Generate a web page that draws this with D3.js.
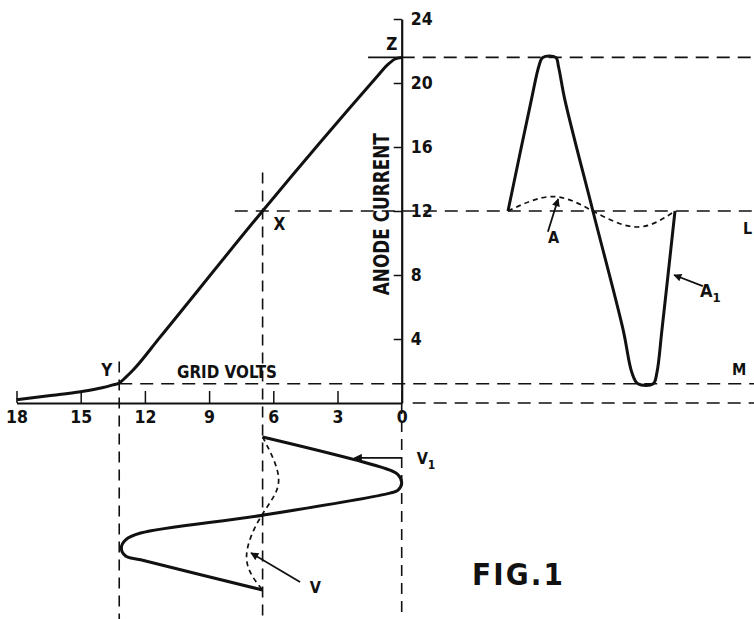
<!DOCTYPE html>
<html>
<head>
<meta charset="utf-8">
<script src="https://cdn.jsdelivr.net/npm/d3@7"></script>
<style>
  body { margin: 0; background: #fff; }
  text { font-family: "DejaVu Sans Condensed", "DejaVu Sans", sans-serif; font-weight: bold; fill: #111; }
</style>
</head>
<body>
<script>
// axis ticks
const gridVoltTicks = [18, 15, 12, 9, 6, 3, 0];
const anodeTicks = [4, 8, 12, 16, 20, 24];

// valve characteristic: grid volts (negative bias) vs anode current
const charVolts = [18, 16.5, 15, 14, 13.5, 13.2, 12.9, 12.55, 11.3, 6.5, 1.15, 0.69, 0.31, 0];
const charCurrent = [0.2, 0.45, 0.7, 0.95, 1.13, 1.25, 1.6, 2.06, 4.1, 12, 20.4, 21.1, 21.5, 21.6];

// anode current waveform A1 (phase in degrees)
const anodePhase = [0, 50, 67, 75, 103, 109, 123, 183, 248, 267, 280, 313, 321, 332, 360];
const anodeCurrent = [12, 18.9, 21.1, 21.6, 21.6, 21.0, 18.9, 12, 4.6, 1.9, 1.2, 1.2, 1.9, 4.6, 12];

// small anode current waveform A
const smallAPhase = [0, 95, 183, 278, 360];
const smallACurrent = [12, 12.9, 12, 11.0, 12];

// grid voltage waveform V1
const gridPhase = [0, 78, 89, 108, 125, 132, 184, 226, 242, 261, 280, 289, 360];
const gridVolts = [6.5, 0.55, 0.17, 0, 0.17, 0.55, 6.5, 12.2, 12.9, 13.1, 12.9, 12.2, 6.5];

// small grid voltage waveform V
const smallVPhase = [0, 101, 181, 282, 360];
const smallVVolts = [6.5, 5.75, 6.5, 7.25, 6.5];

// reference levels
const levelZ = 21.6, levelL = 12, levelM = 1.2;
const voltX = 6.5, voltY = 13.2;

const width = 754, height = 619;

const svg = d3.select("body").append("svg")
    .attr("width", width)
    .attr("height", height);

const xV = d3.scaleLinear().domain([18, 0]).range([16.5, 401.7]);
const yI = d3.scaleLinear().domain([0, 24]).range([403, 19]);
const xT = d3.scaleLinear().domain([0, 360]).range([508, 675]);
const yT = d3.scaleLinear().domain([0, 360]).range([437, 590]);

const ink = "#111";

svg.append("defs").append("marker")
    .attr("id", "head")
    .attr("viewBox", "0 0 10 10")
    .attr("refX", 9).attr("refY", 5)
    .attr("markerWidth", 11).attr("markerHeight", 8)
    .attr("markerUnits", "userSpaceOnUse")
    .attr("orient", "auto")
    .append("path")
    .attr("d", "M0,0 L10,5 L0,10 Z")
    .attr("fill", ink);

// dashed guide lines
const hGuides = [
    { y: yI(levelZ), x1: xV(0), x2: width },
    { y: yI(levelL), x1: xV(7.8), x2: width },
    { y: yI(levelM), x1: xV(voltY), x2: width },
    { y: yI(0), x1: xV(0) + 11, x2: width }
];
const vGuides = [
    { x: xV(voltX), y1: yI(14.4), y2: height },
    { x: xV(voltY), y1: yI(2.6), y2: height },
    { x: xV(0), y1: yI(0), y2: height }
];

svg.selectAll(".hguide").data(hGuides).join("line")
    .attr("x1", d => d.x1).attr("x2", d => d.x2)
    .attr("y1", d => d.y).attr("y2", d => d.y)
    .attr("stroke", ink).attr("stroke-width", 1.6)
    .attr("stroke-dasharray", "13,8");

svg.selectAll(".vguide").data(vGuides).join("line")
    .attr("x1", d => d.x).attr("x2", d => d.x)
    .attr("y1", d => d.y1).attr("y2", d => d.y2)
    .attr("stroke", ink).attr("stroke-width", 1.6)
    .attr("stroke-dasharray", "11,7");

// short solid bit at Z
svg.append("line")
    .attr("x1", xV(1.57)).attr("x2", xV(0))
    .attr("y1", yI(levelZ)).attr("y2", yI(levelZ))
    .attr("stroke", ink).attr("stroke-width", 1.6);

// axes
const yAxis = d3.axisRight(yI)
    .tickValues(anodeTicks)
    .tickSizeInner(-8)
    .tickSizeOuter(0)
    .tickPadding(9);

const gy = svg.append("g")
    .attr("transform", `translate(${xV(0)},0)`)
    .call(yAxis);

const xAxis = d3.axisBottom(xV)
    .tickValues(gridVoltTicks)
    .tickSizeInner(-12)
    .tickSizeOuter(0)
    .tickPadding(8);

const gx = svg.append("g")
    .attr("transform", `translate(0,${yI(0)})`)
    .call(xAxis);

[gx, gy].forEach(g => {
    g.select(".domain").attr("stroke", ink).attr("stroke-width", 2.2);
    g.selectAll(".tick line").attr("stroke", ink).attr("stroke-width", 1.5);
    g.selectAll(".tick text")
        .attr("fill", ink)
        .style("font-family", "'DejaVu Sans Condensed', 'DejaVu Sans', sans-serif")
        .style("font-weight", "bold")
        .style("font-size", "17.5px");
});

// characteristic curve
const charLine = d3.line()
    .x((d, i) => xV(charVolts[i]))
    .y((d, i) => yI(charCurrent[i]))
    .curve(d3.curveMonotoneX);

svg.append("path")
    .attr("d", charLine(charVolts))
    .attr("fill", "none").attr("stroke", ink).attr("stroke-width", 3);

// anode current waveforms
const anodeLine = d3.line()
    .x((d, i) => xT(anodePhase[i]))
    .y((d, i) => yI(anodeCurrent[i]))
    .curve(d3.curveCatmullRom.alpha(0.5));

svg.append("path")
    .attr("d", anodeLine(anodePhase))
    .attr("fill", "none").attr("stroke", ink).attr("stroke-width", 3)
    .attr("stroke-linejoin", "round");

const smallALine = d3.line()
    .x((d, i) => xT(smallAPhase[i]))
    .y((d, i) => yI(smallACurrent[i]))
    .curve(d3.curveNatural);

svg.append("path")
    .attr("d", smallALine(smallAPhase))
    .attr("fill", "none").attr("stroke", ink).attr("stroke-width", 1.7)
    .attr("stroke-dasharray", "5,4");

// grid voltage waveforms
const gridLine = d3.line()
    .x((d, i) => xV(gridVolts[i]))
    .y((d, i) => yT(gridPhase[i]))
    .curve(d3.curveCatmullRom.alpha(0.5));

svg.append("path")
    .attr("d", gridLine(gridPhase))
    .attr("fill", "none").attr("stroke", ink).attr("stroke-width", 3)
    .attr("stroke-linejoin", "round");

const smallVLine = d3.line()
    .x((d, i) => xV(smallVVolts[i]))
    .y((d, i) => yT(smallVPhase[i]))
    .curve(d3.curveNatural);

svg.append("path")
    .attr("d", smallVLine(smallVPhase))
    .attr("fill", "none").attr("stroke", ink).attr("stroke-width", 1.7)
    .attr("stroke-dasharray", "5,4");

// arrows
const arrows = [
    { x1: xT(86), y1: yI(10.7), x2: xT(108), y2: yI(12.75) },   // A
    { x1: xT(420), y1: yI(7.3), x2: xT(358), y2: yI(8.0) },     // A1
    { x1: xV(0), y1: yT(49), x2: xV(2.2), y2: yT(49) },         // V1
    { x1: xV(4.75), y1: yT(341), x2: xV(7.04), y2: yT(273) }    // V
];

svg.selectAll(".arrow").data(arrows).join("line")
    .attr("x1", d => d.x1).attr("y1", d => d.y1)
    .attr("x2", d => d.x2).attr("y2", d => d.y2)
    .attr("stroke", ink).attr("stroke-width", 1.8)
    .attr("marker-end", "url(#head)");

// labels
function label(txt, x, y, size, anchor) {
    return svg.append("text")
        .attr("x", x).attr("y", y)
        .attr("font-size", size)
        .attr("text-anchor", anchor || "start")
        .text(txt);
}

label("Z", xV(0) - 10, yI(levelZ) - 7, 17, "middle");
label("X", xV(voltX) + 11, yI(levelL) + 19, 17);
label("Y", xV(voltY) - 18, yI(levelM) - 8, 17);
label("GRID VOLTS", xV(10.5), yI(levelM) - 6, 17).attr("textLength", 100).attr("lengthAdjust", "spacingAndGlyphs");
label("ANODE CURRENT", 0, 0, 21, "middle")
    .attr("transform", `translate(${xV(0) - 13},${yI(11.8)}) rotate(-90)`)
    .attr("textLength", 162).attr("lengthAdjust", "spacingAndGlyphs");
label("A", xT(98), yI(10), 16, "middle");
label("L", width - 11, yI(10.55), 16);
label("M", width - 22, yI(1.75), 16);

const a1 = label("A", xT(414), yI(6.6), 18);
a1.append("tspan").attr("font-size", 13).attr("dy", 5).text("1");

const v1 = label("V", xV(0) + 15, yT(51) + 5, 16);
v1.append("tspan").attr("font-size", 12).attr("dy", 5).text("1");

label("V", xV(4.3), yT(352) + 6, 16);

label("FIG.1", 472, 585, 31).attr("textLength", 91).attr("lengthAdjust", "spacing");
</script>
</body>
</html>
